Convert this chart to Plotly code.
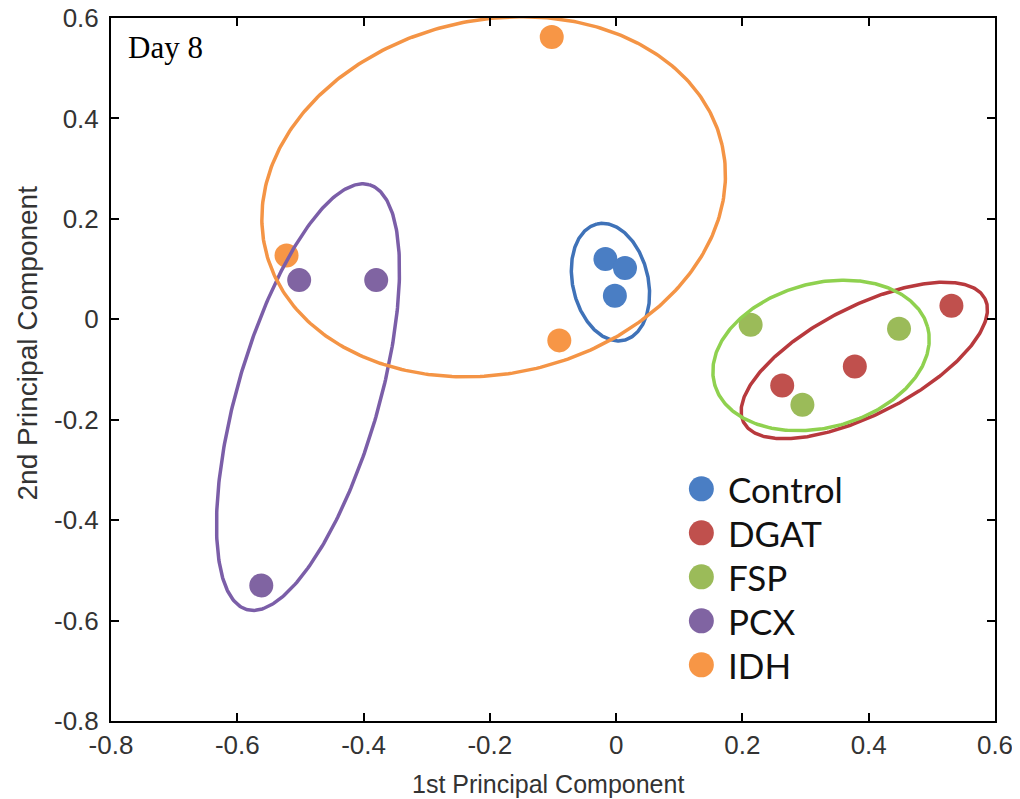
import numpy as np
import plotly.graph_objects as go

# ---------------- data ----------------
groups = ["Control", "DGAT", "FSP", "PCX", "IDH"]
marker_colors = ["#4a7ec4", "#c0504d", "#9bbb59", "#8064a2", "#f79646"]
ellipse_colors = ["#3f72b8", "#b8393d", "#8fd14f", "#7b5ea8", "#f49445"]

control_x = [-0.017, 0.014, -0.002]
control_y = [0.120, 0.102, 0.047]
dgat_x = [0.531, 0.378, 0.263]
dgat_y = [0.027, -0.094, -0.132]
fsp_x = [0.213, 0.448, 0.295]
fsp_y = [-0.011, -0.019, -0.170]
pcx_x = [-0.502, -0.380, -0.562]
pcx_y = [0.078, 0.078, -0.530]
idh_x = [-0.102, -0.522, -0.090]
idh_y = [0.562, 0.127, -0.042]

xs = [control_x, dgat_x, fsp_x, pcx_x, idh_x]
ys = [control_y, dgat_y, fsp_y, pcx_y, idh_y]

# confidence ellipses: centre (data), semi-axes (in x-axis units), screen angle (deg)
ell_cx = [-0.009, 0.393, 0.3245, -0.488, -0.194]
ell_cy = [0.074, -0.082, -0.072, -0.155, 0.244]
ell_a = [0.0945, 0.2147, 0.1747, 0.350, 0.371]
ell_b = [0.0598, 0.0854, 0.1142, 0.112, 0.280]
ell_ang = [102.9, 27.1, 14.9, 73.9, 12.7]

x_ticks = [-0.8, -0.6, -0.4, -0.2, 0, 0.2, 0.4, 0.6]
x_ticklabels = ["-0.8", "-0.6", "-0.4", "-0.2", "0", "0.2", "0.4", "0.6"]
y_ticks = [-0.8, -0.6, -0.4, -0.2, 0, 0.2, 0.4, 0.6]
y_ticklabels = ["-0.8", "-0.6", "-0.4", "-0.2", "0", "0.2", "0.4", "0.6"]

# ---------------- layout geometry ----------------
OFF = 8  # page body margin
W, H = 1020 - OFF, 799 - OFF
ML, MT = 111 - OFF, 17.5 - OFF
MR = W - (995.5 - OFF)
MB = H - (720.7 - OFF)
XR = [-0.8, 0.6]
YR = [-0.8, 0.6]
plot_w = W - ML - MR
plot_h = H - MT - MB
px_per_x = plot_w / (XR[1] - XR[0])
px_per_y = plot_h / (YR[1] - YR[0])
ratio = px_per_x / px_per_y


def px_x(p):  # reference pixel -> plot-area fraction
    return (p - OFF - ML) / plot_w


def px_y(p):
    return (H - MB - (p - OFF)) / plot_h


fig = go.Figure()

# points
for name, x, y, c in zip(groups, xs, ys, marker_colors):
    fig.add_trace(go.Scatter(x=x, y=y, mode="markers", name=name,
                             marker=dict(size=24, color=c, line=dict(width=0)),
                             showlegend=False))

# ellipses (drawn over the points)
t = np.linspace(0, 2 * np.pi, 361)
for cx, cy, a, b, ang, c in zip(ell_cx, ell_cy, ell_a, ell_b, ell_ang, ellipse_colors):
    th = np.deg2rad(ang)
    dx = a * np.cos(t) * np.cos(th) - b * np.sin(t) * np.sin(th)
    dy = a * np.cos(t) * np.sin(th) + b * np.sin(t) * np.cos(th)
    fig.add_trace(go.Scatter(x=cx + dx, y=cy + dy * ratio, mode="lines",
                             line=dict(color=c, width=3.5), hoverinfo="skip",
                             showlegend=False))

# custom legend on an overlay axis spanning the plot area (0..1)
leg_x = [px_x(701.7)] * 5
leg_y = [px_y(488.5 + 44 * i) for i in range(5)]
fig.add_trace(go.Scatter(x=leg_x, y=leg_y, mode="markers", xaxis="x2", yaxis="y2",
                         marker=dict(size=25, color=marker_colors, line=dict(width=0)),
                         showlegend=False, hoverinfo="skip"))
for i, g in enumerate(groups):
    fig.add_annotation(x=px_x(726), y=leg_y[i], xref="x2", yref="y2",
                       text=g, showarrow=False, xanchor="left", yanchor="middle",
                       font=dict(family="Lato", size=35, color="#111111"))

# Day 8 label
fig.add_annotation(x=px_x(126), y=px_y(47), xref="x2", yref="y2",
                   text="Day 8", showarrow=False, xanchor="left", yanchor="middle",
                   font=dict(family="Liberation Serif", size=31, color="#000000"))

# axis titles as annotations
fig.add_annotation(x=px_x(548), y=px_y(784), xref="paper", yref="paper",
                   text="1st Principal Component", showarrow=False,
                   xanchor="center", yanchor="middle",
                   font=dict(family="Liberation Sans", size=25, color="#333333"))
fig.add_annotation(x=px_x(27), y=px_y(343), xref="paper", yref="paper",
                   text="2nd Principal Component", showarrow=False, textangle=-90,
                   xanchor="center", yanchor="middle",
                   font=dict(family="Liberation Sans", size=28, color="#333333"))

axis_common = dict(showgrid=False, zeroline=False, showline=True, linecolor="black",
                   linewidth=2, mirror="ticks", ticks="inside", ticklen=8, tickwidth=2,
                   tickcolor="black", automargin=False, ticklabeloverflow="allow",
                   tickfont=dict(family="Liberation Sans", size=26, color="#333333"))

fig.update_layout(
    width=W, height=H,
    margin=dict(l=ML, r=MR, t=MT, b=MB, autoexpand=False),
    paper_bgcolor="white", plot_bgcolor="white",
    xaxis=dict(range=XR, tickvals=x_ticks, ticktext=x_ticklabels,
               ticklabelstandoff=0, **axis_common),
    yaxis=dict(range=YR, tickvals=y_ticks, ticktext=y_ticklabels,
               ticklabelstandoff=5, **axis_common),
    xaxis2=dict(overlaying="x", range=[0, 1], visible=False, fixedrange=True),
    yaxis2=dict(overlaying="y", range=[0, 1], visible=False, fixedrange=True),
    showlegend=False,
)

fig.write_html("out.html")
